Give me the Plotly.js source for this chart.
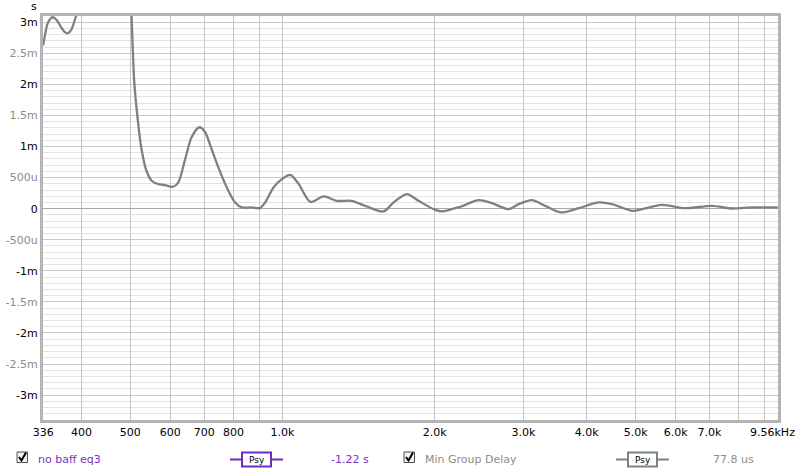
<!DOCTYPE html>
<html>
<head>
<meta charset="utf-8">
<script src="https://cdn.plot.ly/plotly-3.0.1.min.js"></script>
<style>html,body{margin:0;padding:0;background:#fff;}#chart{width:800px;height:473px;}</style>
</head>
<body>
<div id="chart"></div>
<script>
// Frequency (Hz) and group delay (ms)
const freqHz = [336, 339, 342, 346, 351, 357, 364, 370, 376, 382, 387, 391, 400, 420, 440, 470, 490, 498,
  503, 509, 517, 526, 538, 551, 568, 586, 606, 622, 642, 661, 685, 703, 724, 747, 776, 806, 831, 869, 903,
  924, 960, 997, 1036, 1076, 1135, 1206, 1281, 1371, 1458, 1585, 1659, 1763, 1859, 2006, 2067, 2248, 2444,
  2597, 2803, 2933, 3116, 3313, 3547, 3857, 4224, 4488, 4916, 5069, 5638, 6272, 7080, 7757, 8498, 9560];
const delayMs = [2.63, 2.80, 2.95, 3.04, 3.08, 3.04, 2.93, 2.85, 2.82, 2.88, 3.00, 3.12, 3.4, 4.4, 5.2, 5.3, 4.8, 3.9,
  3.05, 2.035, 1.44, 0.96, 0.61, 0.45, 0.395, 0.38, 0.35, 0.42, 0.80, 1.15, 1.31, 1.23, 0.96, 0.66, 0.34, 0.10, 0.02, 0.02, 0.01,
  0.10, 0.34, 0.475, 0.545, 0.40, 0.11, 0.197, 0.126, 0.126, 0.045, -0.045, 0.10, 0.234, 0.126, -0.02, -0.045, 0.03, 0.137,
  0.089, -0.008, 0.073, 0.137, 0.045, -0.06, 0.008, 0.10, 0.073, -0.035, -0.02, 0.06, 0.008, 0.045, 0.003, 0.02, 0.02];

const xTickVals = [336, 400, 500, 600, 700, 800, 900, 1000, 2000, 3000, 4000, 5000, 6000, 7000, 8000, 9000];
const xTickText = ['336', '400', '500', '600', '700', '800', '', '1.0k', '2.0k', '3.0k', '4.0k', '5.0k', '6.0k', '7.0k', '', ''];
const xEndVal = 9560;
const xEndText = '9.56kHz';
const yTickVals = [-3, -2.5, -2, -1.5, -1, -0.5, 0, 0.5, 1, 1.5, 2, 2.5, 3];
const yTickText = ['-3m', '-2.5m', '-2m', '-1.5m', '-1m', '-500u', '0', '500u', '1m', '1.5m', '2m', '2.5m', '3m'];
const yTickMajor = [true, false, true, false, true, false, true, false, true, false, true, false, true];

const seriesName = 'no baff eq3';
const seriesOffset = '-1.22 s';
const refName = 'Min Group Delay';
const refOffset = '77.8 us';

const L = 43, R = 778, T = 16, B = 420, W = 800, H = 473;
const px = x => (x - L) / (R - L);
const py = y => (B - y) / (B - T);

const yText = yTickText.map((t, i) => yTickMajor[i] ? t : '<span style="color:#8c8c8c">' + t + '</span>');

const trace = {
  x: freqHz, y: delayMs, type: 'scatter', mode: 'lines',
  line: {color: '#808080', width: 2.3, shape: 'spline', smoothing: 0.8},
  hoverinfo: 'skip', showlegend: false
};

const shapes = [
  // darker 1 kHz grid line
  {type: 'line', xref: 'x', yref: 'paper', x0: 1000, x1: 1000, y0: 0, y1: 1, layer: 'below', line: {color: '#8a8a8a', width: 1}},
  // first legend entry: checkbox
  {type: 'rect', xref: 'paper', yref: 'paper', x0: px(17), x1: px(27.5), y0: py(462.5), y1: py(452), line: {color: '#505050', width: 1}, fillcolor: '#f2f2f2'},
  {type: 'path', xref: 'paper', yref: 'paper', path: `M ${px(19)} ${py(457)} L ${px(21.5)} ${py(460.5)} L ${px(26)} ${py(452.5)}`, line: {color: '#000', width: 2}},
  // Psy line and box (purple)
  {type: 'line', xref: 'paper', yref: 'paper', x0: px(230), x1: px(283), y0: py(459.5), y1: py(459.5), line: {color: '#6a2cc4', width: 2}},
  {type: 'rect', xref: 'paper', yref: 'paper', x0: px(242), x1: px(271), y0: py(466.5), y1: py(452.5), line: {color: '#6a2cc4', width: 2}, fillcolor: '#ffffff'},
  // second legend entry: checkbox
  {type: 'rect', xref: 'paper', yref: 'paper', x0: px(404), x1: px(414.5), y0: py(462.5), y1: py(452), line: {color: '#505050', width: 1}, fillcolor: '#f2f2f2'},
  {type: 'path', xref: 'paper', yref: 'paper', path: `M ${px(406)} ${py(457)} L ${px(408.5)} ${py(460.5)} L ${px(413)} ${py(452.5)}`, line: {color: '#000', width: 2}},
  // Psy line and box (gray)
  {type: 'line', xref: 'paper', yref: 'paper', x0: px(616), x1: px(669), y0: py(459.5), y1: py(459.5), line: {color: '#808080', width: 2}},
  {type: 'rect', xref: 'paper', yref: 'paper', x0: px(628), x1: px(657), y0: py(466.5), y1: py(452.5), line: {color: '#808080', width: 2}, fillcolor: '#ffffff'}
];

const ann = (x, y, text, color, size, anchor) => ({
  xref: 'paper', yref: 'paper', x: px(x), y: py(y), text: text, showarrow: false,
  xanchor: anchor || 'left', yanchor: 'middle', font: {family: 'DejaVu Sans, Verdana, sans-serif', size: size || 11, color: color}
});

const annotations = [
  ann(34, 7, 's', '#000', 11, 'center'),
  ann(36, 459, seriesName, '#7a32c0'),
  ann(256.5, 459.5, 'Psy', '#000', 9, 'center'),
  ann(329, 459, seriesOffset, '#7a32c0'),
  ann(423, 459, refName, '#8c8c8c'),
  ann(642.5, 459.5, 'Psy', '#000', 9, 'center'),
  ann(711, 459, refOffset, '#8c8c8c'),
  // end-of-axis tick label (placed at the axis end value, nudged inside like the original)
  {xref: 'x', yref: 'paper', x: Math.log10(xEndVal), y: py(432.5), xshift: -5, text: xEndText, showarrow: false,
   xanchor: 'center', yanchor: 'middle', font: {family: 'DejaVu Sans, Verdana, sans-serif', size: 11, color: '#000'}}
];

const layout = {
  width: W, height: H,
  margin: {l: L, r: W - R, t: T, b: H - B, pad: 0},
  paper_bgcolor: '#ffffff', plot_bgcolor: '#ffffff',
  font: {family: 'DejaVu Sans, Verdana, sans-serif', size: 11, color: '#000'},
  xaxis: {
    type: 'log', range: [Math.log10(335.8), Math.log10(9565)],
    tickmode: 'array', tickvals: xTickVals, ticktext: xTickText,
    ticks: '', showgrid: true, gridcolor: '#c6c6c6', gridwidth: 1,
    showline: true, mirror: true, linecolor: '#b4b4b4', linewidth: 3,
    zeroline: false, tickfont: {size: 11, color: '#000'}
  },
  yaxis: {
    range: [-3.4, 3.1],
    tickmode: 'array', tickvals: yTickVals, ticktext: yText,
    ticks: '', showgrid: true, gridcolor: '#c8c8c8', gridwidth: 1,
    minor: {dtick: 0.1, tick0: 0, showgrid: true, gridcolor: '#e2e2e2', gridwidth: 1},
    showline: true, mirror: true, linecolor: '#b4b4b4', linewidth: 3,
    zeroline: true, zerolinecolor: '#a8a8a8', zerolinewidth: 1,
    tickfont: {size: 11, color: '#000'}
  },
  shapes: shapes,
  annotations: annotations,
  showlegend: false
};

Plotly.newPlot('chart', [trace], layout, {displayModeBar: false, staticPlot: true});
</script>
</body>
</html>
